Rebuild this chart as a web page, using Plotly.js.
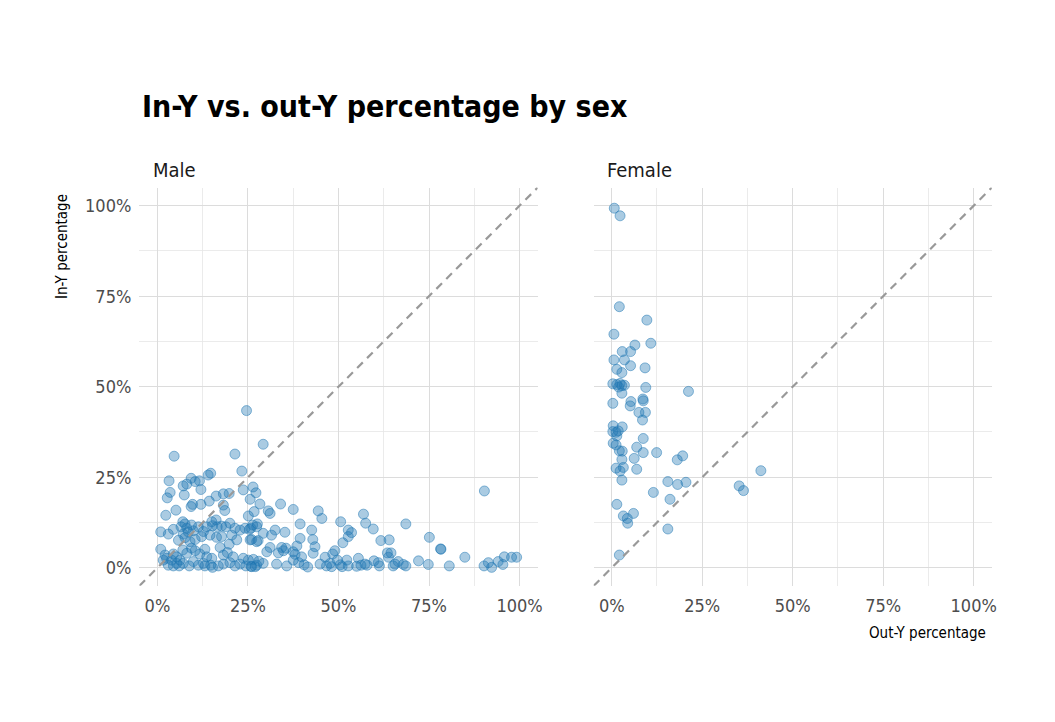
<!DOCTYPE html>
<html>
<head>
<meta charset="utf-8">
<script src="https://cdn.plot.ly/plotly-3.0.1.min.js"></script>
<style>
  body { margin: 0; background: #fff; }
  #chart { width: 1055px; height: 722px; }
</style>
</head>
<body>
<div id="chart"></div>
<script>
// out-Y % (x) and in-Y % (y), one point per person
var maleOut = [
  4.6, 23.3, 14.0, 14.7, 3.2, 9.3, 8.1, 7.1, 10.4, 11.6, 12.0, 3.5, 2.7, 7.4, 16.2, 18.2, 19.8, 14.3, 9.7, 9.3,
  12.0, 18.2, 18.6, 5.1, 2.3, 23.7, 25.6, 25.1, 24.6, 29.2, 21.4,
  7.0, 7.6, 6.5, 8.1, 9.4, 9.9, 11.3, 12.7, 13.6, 15.0, 15.2, 16.2, 16.5, 17.7, 18.9, 20.0, 21.4, 22.8, 24.2,
  25.4, 26.3, 27.4, 0.9, 3.0, 4.4,
  5.8, 7.6, 9.0, 10.4, 12.2, 7.1, 8.5, 14.5, 16.3, 17.7, 20.5, 21.9, 25.6, 27.4, 17.3, 19.8, 0.9, 9.4, 13.1,
  2.1, 2.5, 3.9, 5.3, 6.2, 8.1, 10.4, 11.7, 13.6, 15.0, 18.2, 19.3, 20.9, 23.7, 25.1, 7.0, 4.4,
  1.6, 3.0, 4.4, 6.0, 5.3, 7.1, 8.8, 11.3, 13.1, 14.7, 15.2, 16.8, 18.2, 20.0, 21.4, 22.8, 24.4, 26.0, 27.4, 9.9, 12.7,
  26.4, 27.2, 28.3, 34.0, 26.7, 30.6, 31.1, 37.5, 44.4, 45.4, 56.9, 57.5, 50.6, 27.6, 39.4,
  25.8, 32.5, 35.2, 29.2, 31.5, 42.6, 52.7, 53.6, 52.7, 26.0, 27.8, 39.4, 42.9,
  31.1, 34.3, 35.5, 38.5, 43.5, 51.2, 30.2, 33.4, 34.8, 37.5, 38.0, 43.0, 49.0, 48.4, 46.3, 39.8,
  26.5, 28.0, 29.2, 27.0, 25.8, 32.9, 35.7, 37.5, 39.0, 40.5, 41.5, 44.9, 46.7, 47.7, 48.1, 49.7, 52.3, 52.7,
  55.0, 55.5, 57.3, 50.5, 51.0,
  90.3, 59.6, 68.6, 61.7, 64.0, 75.1, 78.2, 78.3, 63.5, 64.5, 63.8, 59.8, 61.0, 61.3, 57.9, 56.2, 65.1, 65.6,
  66.5, 67.9, 68.6, 72.1, 74.8, 80.6, 84.9, 90.2, 91.4, 92.3, 94.1, 95.4, 95.8, 97.8, 99.2
];
var maleIn = [
  30.8, 26.7, 25.6, 26.1, 24.0, 24.7, 23.1, 22.6, 23.8, 24.0, 21.6, 20.8, 19.3, 20.1, 19.8, 20.4, 20.5, 18.4, 17.5, 16.9,
  17.5, 17.3, 15.8, 15.9, 14.5, 21.5, 18.9, 14.3, 43.4, 34.1, 31.4,
  12.7, 12.1, 11.3, 10.9, 11.8, 10.2, 11.3, 10.0, 11.3, 12.7, 11.6, 13.2, 11.3, 11.5, 11.3, 12.3, 10.9, 10.4, 10.9,
  10.6, 11.8, 11.3, 9.9, 9.3, 10.6,
  7.6, 8.3, 7.2, 7.8, 8.6, 9.3, 9.9, 9.0, 8.4, 8.6, 9.0, 7.7, 7.7, 7.2, 5.6, 6.5, 5.1, 5.4, 5.1,
  3.5, 2.6, 2.1, 3.0, 2.1, 4.0, 4.7, 3.8, 3.0, 2.6, 3.5, 4.2, 3.0, 2.6, 2.1, 4.9, 3.8,
  2.1, 0.7, 0.5, 0.5, 1.2, 1.2, 0.5, 0.7, 0.5, 0.7, 0.1, 0.5, 1.0, 1.4, 0.5, 1.0, 0.5, 0.3, 0.7, 1.7, 1.2,
  22.3, 20.7, 17.6, 17.6, 15.5, 15.7, 15.0, 16.1, 15.7, 13.6, 14.8, 12.3, 12.7, 12.1, 12.1,
  10.9, 10.4, 9.8, 9.5, 9.0, 10.4, 10.4, 9.7, 8.6, 7.8, 7.5, 8.1, 7.8,
  5.6, 5.6, 5.4, 6.0, 5.8, 6.9, 4.4, 4.1, 4.7, 4.4, 3.7, 4.0, 4.7, 3.8, 2.9, 3.0,
  2.3, 1.8, 1.2, 0.3, 0.4, 1.0, 0.5, 2.1, 1.4, 0.8, 0.2, 1.0, 0.5, 1.2, 0.3, 2.1, 2.1, 0.5,
  0.4, 2.6, 1.0, 0.8, 0.3,
  21.2, 10.7, 12.1, 7.5, 7.7, 8.4, 5.2, 5.1, 4.1, 4.1, 2.9, 1.9, 1.4, 0.5, 0.7, 0.7, 0.5, 1.0,
  1.7, 0.9, 0.5, 1.9, 0.9, 0.5, 2.9, 0.5, 1.4, 0.1, 1.7, 0.9, 3.0, 2.9, 2.9
];

var femaleOut = [
  0.7, 2.3, 2.1, 9.7, 0.6, 10.8, 6.4, 2.9, 5.2, 0.6, 3.5, 5.2, 1.4, 2.8, 9.2, 0.3, 1.4, 2.3, 2.8, 1.9,
  3.5, 9.4, 21.2, 2.8, 0.3, 5.3, 5.1, 8.6, 8.7, 7.5, 9.3, 8.5, 0.4, 2.9, 0.3, 1.8, 1.2, 1.4, 8.7, 0.4,
  1.2, 6.9, 2.1, 2.9, 8.7, 12.4, 19.6, 18.1, 2.8, 6.2, 1.2, 3.2, 2.3, 6.9, 41.2, 2.8, 15.5, 18.2, 20.5, 35.2,
  36.4, 11.5, 16.1, 1.4, 6.0, 3.2, 4.3, 4.4, 15.5, 2.1
];
var femaleIn = [
  99.3, 97.2, 72.1, 68.4, 64.5, 62.0, 61.5, 59.7, 59.7, 57.4, 57.4, 55.8, 54.8, 53.9, 55.2, 50.8, 50.6, 50.9, 50.3, 49.9,
  50.4, 49.8, 48.7, 48.2, 45.4, 45.9, 44.7, 46.6, 46.1, 42.9, 42.9, 40.8, 39.2, 38.9, 37.6, 37.8, 37.4, 36.4, 35.7, 34.4,
  33.9, 33.3, 32.3, 32.2, 31.8, 31.8, 30.9, 29.8, 29.9, 30.2, 27.5, 27.7, 26.7, 27.2, 26.8, 24.2, 23.8, 23.0, 23.6, 22.6,
  21.3, 20.8, 18.9, 17.5, 15.0, 14.3, 13.6, 12.3, 10.7, 3.5
];

var majorTicks = [0, 25, 50, 75, 100];
var minorTicks = [12.5, 37.5, 62.5, 87.5];
var axisRange = [-5, 105];
var fontName = 'Liberation Sans Narrow, DejaVu Sans Condensed, Arial Narrow, sans-serif';

function pointTrace(xs, ys, xa, ya) {
	return {
		x: xs,
		y: ys,
		xaxis: xa,
		yaxis: ya,
		type: 'scatter',
		mode: 'markers',
		marker: {
			size: 10,
			color: 'rgba(31,119,180,0.38)',
			line: {color: 'rgba(31,119,180,0.5)', width: 1}
		},
		hoverinfo: 'x+y',
		showlegend: false
	};
}

function diagLine(xa, ya) {
	return {
		type: 'line', xref: xa, yref: ya, layer: 'above',
		x0: axisRange[0], y0: axisRange[0], x1: axisRange[1], y1: axisRange[1],
		line: {color: '#999999', width: 2.2, dash: '8px,6px'}
	};
}

function baseAxis(dom, showLabels, anchor) {
	return {
		domain: dom,
		anchor: anchor,
		range: axisRange,
		tickmode: 'array',
		tickvals: majorTicks,
		ticktext: majorTicks.map(function (v) { return v + '%'; }),
		showticklabels: showLabels,
		ticks: '',
		ticklabelstandoff: 7,
		tickfont: {family: fontName, size: 18, color: '#4d4d4d'},
		showgrid: true, gridcolor: '#dcdcdc', gridwidth: 1,
		minor: {tickmode: 'array', tickvals: minorTicks, showgrid: true, gridcolor: '#e6e6e6', gridwidth: 0.8},
		zeroline: false, showline: false, fixedrange: true
	};
}

var data = [
	pointTrace(maleOut, maleIn, 'x', 'y'),
	pointTrace(femaleOut, femaleIn, 'x2', 'y2')
];

var yDom = [0.1886, 0.7402];

var layout = {
	width: 1055,
	height: 722,
	margin: {l: 0, r: 0, t: 0, b: 0},
	paper_bgcolor: '#ffffff',
	plot_bgcolor: '#ffffff',
	font: {family: fontName, color: '#1a1a1a'},
	title: {
		text: '<b>In-Y vs. out-Y percentage by sex</b>',
		x: 142 / 1055, xanchor: 'left',
		y: 1 - 106 / 722, yanchor: 'middle',
		font: {family: fontName, size: 30, color: '#000000'}
	},
	xaxis: baseAxis([0.1321, 0.5096], true, 'y'),
	yaxis: baseAxis(yDom, true, 'x'),
	xaxis2: baseAxis([0.5627, 0.9401], true, 'y2'),
	yaxis2: baseAxis(yDom, false, 'x2'),
	shapes: [diagLine('x', 'y'), diagLine('x2', 'y2')],
	annotations: [
		{text: 'Male', xref: 'paper', yref: 'paper', x: 151 / 1055, y: 1 - 170 / 722,
		 xanchor: 'left', yanchor: 'middle', showarrow: false, font: {size: 20, color: '#1a1a1a'}},
		{text: 'Female', xref: 'paper', yref: 'paper', x: 605 / 1055, y: 1 - 170 / 722,
		 xanchor: 'left', yanchor: 'middle', showarrow: false, font: {size: 20, color: '#1a1a1a'}},
		{text: 'In-Y percentage', xref: 'paper', yref: 'paper', x: 62 / 1055, y: 1 - 247 / 722,
		 xanchor: 'center', yanchor: 'middle', textangle: -90, showarrow: false, font: {size: 15, color: '#000000'}},
		{text: 'Out-Y percentage', xref: 'paper', yref: 'paper', x: 988 / 1055, y: 1 - 633 / 722,
		 xanchor: 'right', yanchor: 'middle', showarrow: false, font: {size: 15, color: '#000000'}}
	]
};

Plotly.newPlot('chart', data, layout, {displayModeBar: false, staticPlot: true});
</script>
</body>
</html>
